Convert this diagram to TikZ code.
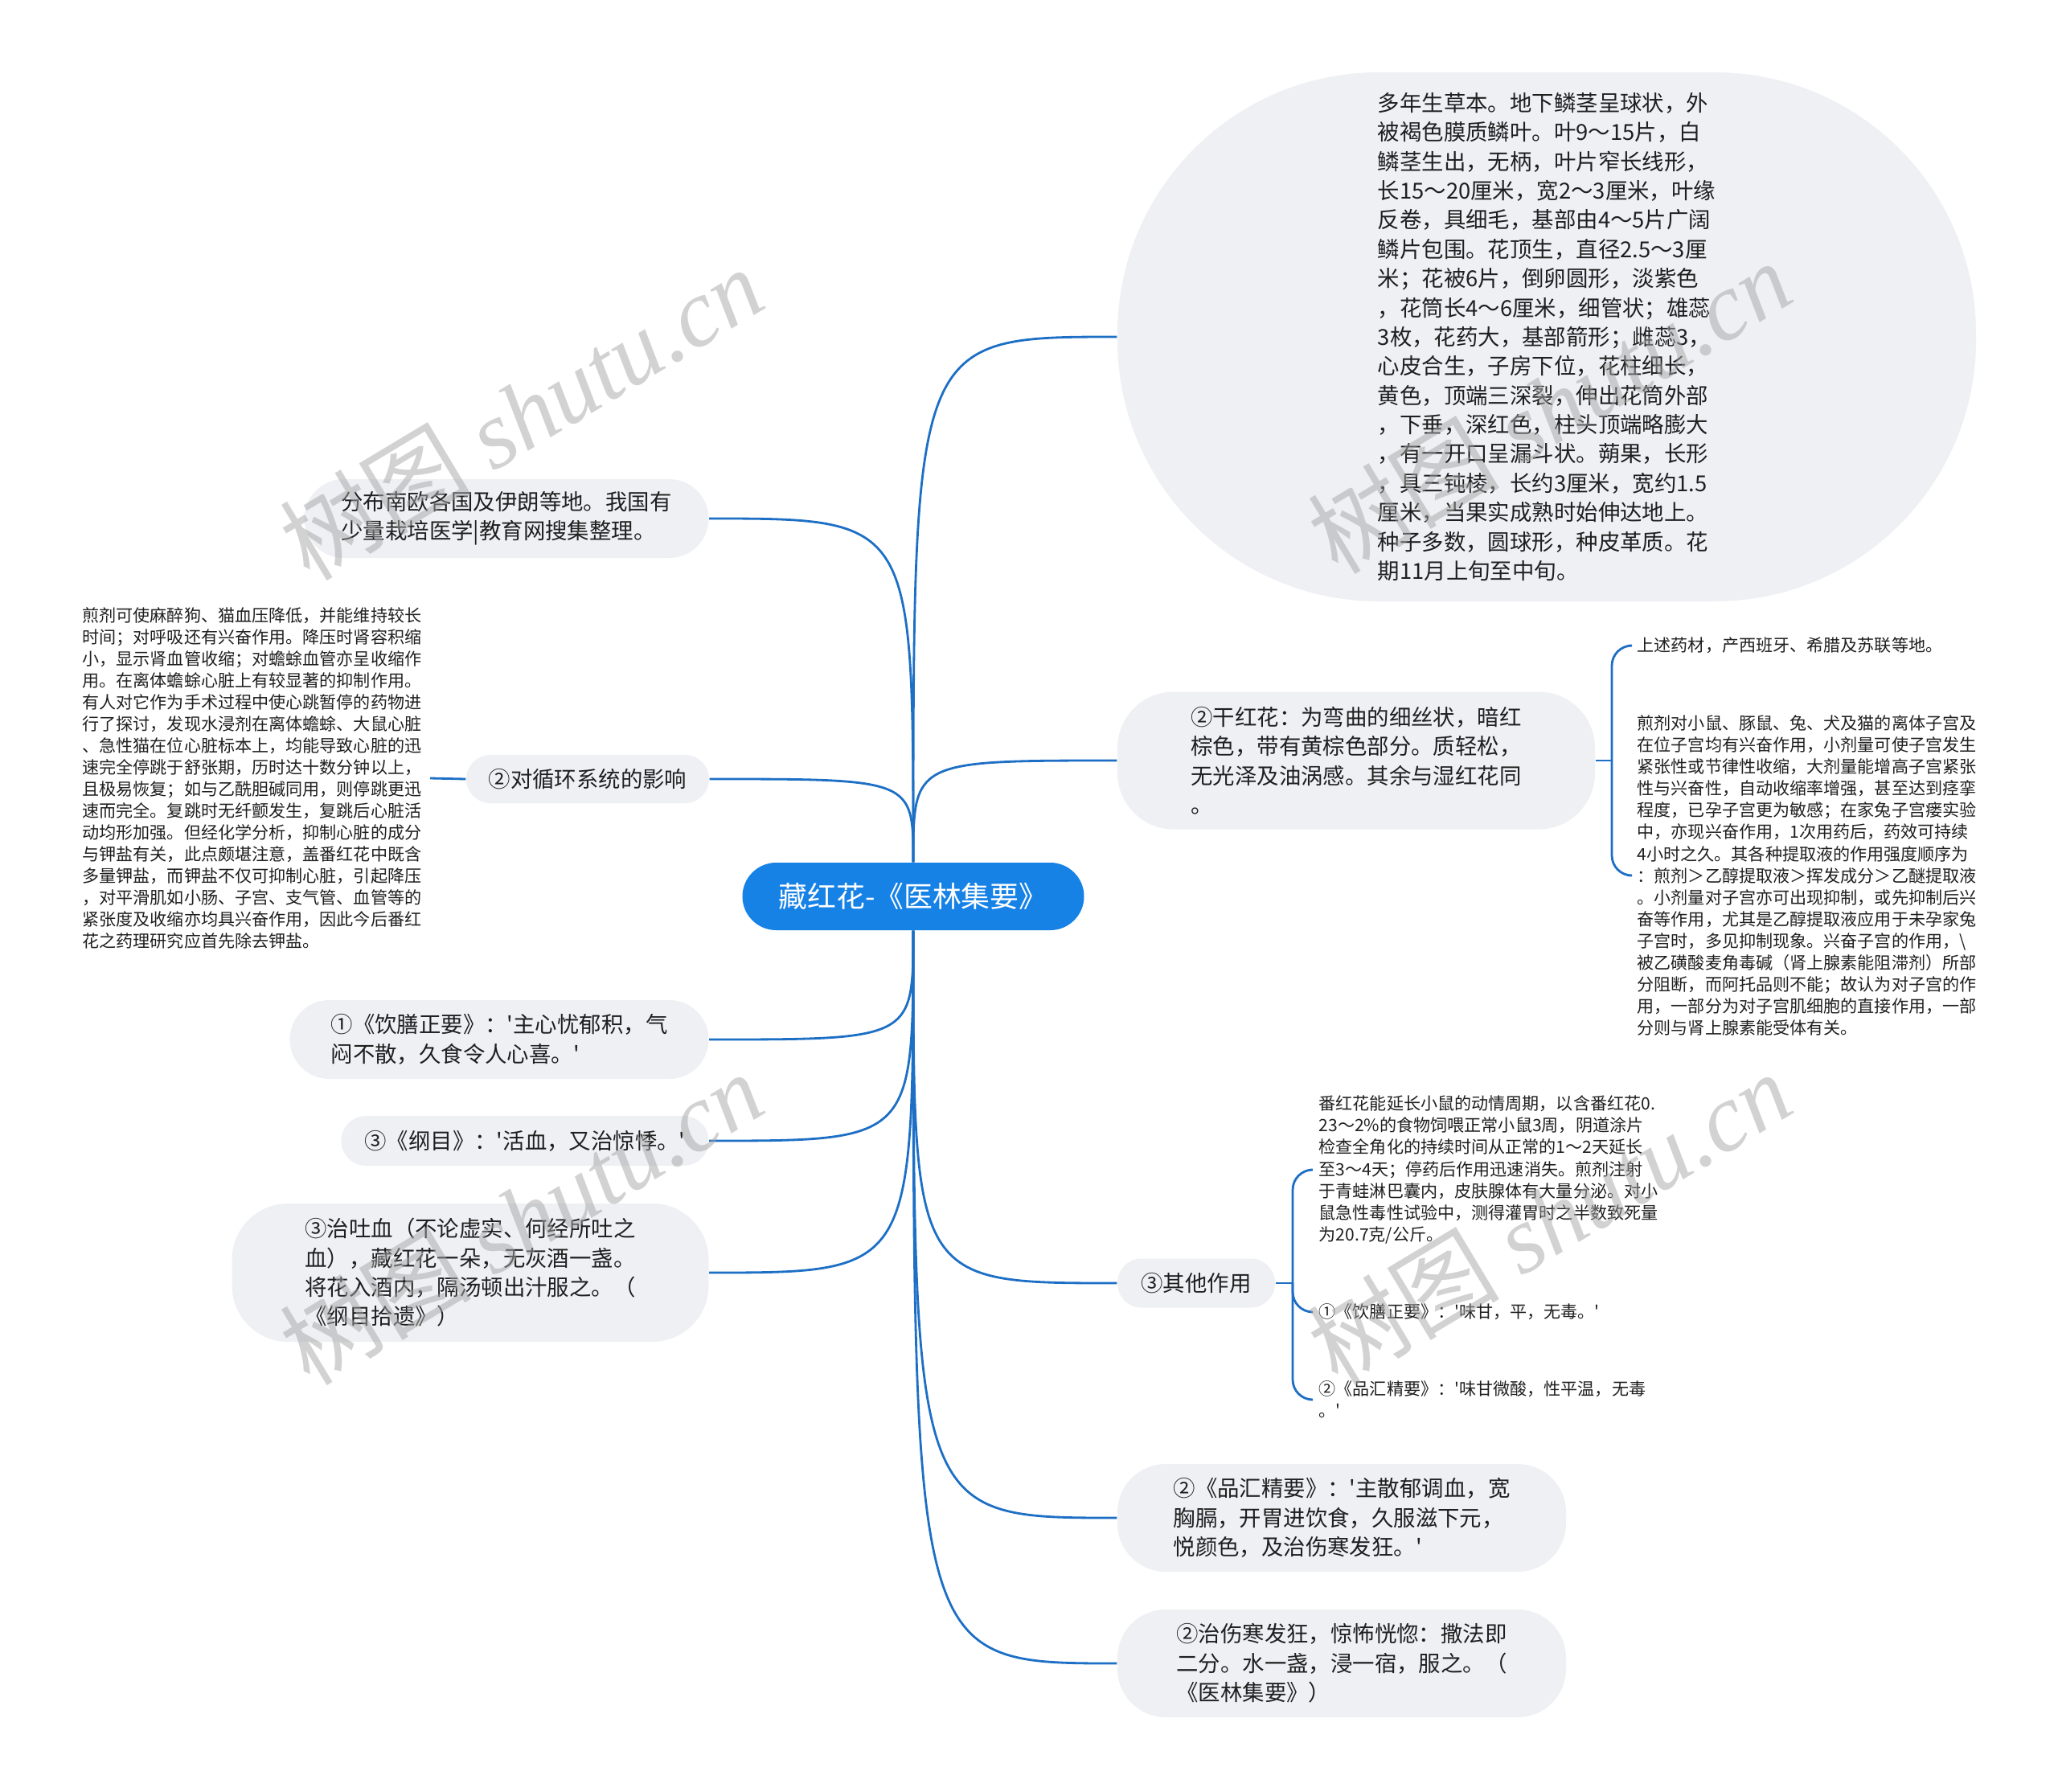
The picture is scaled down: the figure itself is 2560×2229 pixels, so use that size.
\documentclass[tikz,border=0pt]{standalone}
\usepackage{fontspec}
\setmainfont{Noto Sans CJK SC}
\newfontfamily\wmfont{Liberation Serif}
\usetikzlibrary{positioning}
\definecolor{rootblue}{HTML}{1682E6}
\definecolor{linkblue}{HTML}{1D6FC5}
\definecolor{boxgray}{HTML}{EEF0F4}
\newcommand{\qt}{\textquotesingle}

\begin{document}
\begin{tikzpicture}[x=0.1mm, y=-0.1mm,
  link/.style={linkblue, line width=0.8pt},
  root/.style={fill=rootblue, text=white, inner sep=0pt, rounded corners=4.2mm,
    minimum width=42.5mm, minimum height=8.4mm, font=\fontsize{10.2pt}{12pt}\selectfont},
  topic/.style={fill=boxgray, inner sep=0pt, align=left, text=black!88,
    font=\fontsize{7.8pt}{10.35pt}\selectfont},
  leaf/.style={inner xsep=1mm, inner ysep=0.5mm, align=left, text=black!88,
    font=\fontsize{6pt}{7.7pt}\selectfont},
  wm/.style={text=black!35, text opacity=0.5, font=\fontsize{34pt}{36pt}\selectfont}]
\fill[white] (0,0) rectangle (2560,2229);
\useasboundingbox (0,0) rectangle (2560,2229);

% centre
\node[root] (root) at (1136,1115) {藏红花-《医林集要》};

% right side, top
\node[topic, minimum width=106.8mm, minimum height=65.8mm, rounded corners=32.5mm] (desc) at (1924,419)
  {多年生草本。地下鳞茎呈球状，外\\被褐色膜质鳞叶。叶9～15片，白\\鳞茎生出，无柄，叶片窄长线形，\\长15～20厘米，宽2～3厘米，叶缘\\反卷，具细毛，基部由4～5片广阔\\鳞片包围。花顶生，直径2.5～3厘\\米；花被6片，倒卵圆形，淡紫色\\，花筒长4～6厘米，细管状；雄蕊\\3枚，花药大，基部箭形；雌蕊3，\\心皮合生，子房下位，花柱细长，\\黄色，顶端三深裂，伸出花筒外部\\，下垂，深红色，柱头顶端略膨大\\，有一开口呈漏斗状。蒴果，长形\\，具三钝棱，长约3厘米，宽约1.5\\厘米，当果实成熟时始伸达地上。\\种子多数，圆球形，种皮革质。花\\期11月上旬至中旬。};
\node[topic, minimum width=59.4mm, minimum height=17.1mm, rounded corners=7mm] (dry) at (1687,946)
  {②干红花：为弯曲的细丝状，暗红\\棕色，带有黄棕色部分。质轻松，\\无光泽及油涡感。其余与湿红花同\\。};
\node[leaf, anchor=west] (dry1) at (2026,803) {上述药材，产西班牙、希腊及苏联等地。};
\node[leaf, anchor=west] (dry2) at (2026,1089)
  {煎剂对小鼠、豚鼠、兔、犬及猫的离体子宫及\\在位子宫均有兴奋作用，小剂量可使子宫发生\\紧张性或节律性收缩，大剂量能增高子宫紧张\\性与兴奋性，自动收缩率增强，甚至达到痉挛\\程度，已孕子宫更为敏感；在家兔子宫瘘实验\\中，亦现兴奋作用，1次用药后，药效可持续\\4小时之久。其各种提取液的作用强度顺序为\\：煎剂＞乙醇提取液＞挥发成分＞乙醚提取液\\。小剂量对子宫亦可出现抑制，或先抑制后兴\\奋等作用，尤其是乙醇提取液应用于未孕家兔\\子宫时，多见抑制现象。兴奋子宫的作用，\textbackslash\\被乙磺酸麦角毒碱（肾上腺素能阻滞剂）所部\\分阻断，而阿托品则不能；故认为对子宫的作\\用，一部分为对子宫肌细胞的直接作用，一部\\分则与肾上腺素能受体有关。};

% left side, top
\node[topic, minimum width=50.3mm, minimum height=9.8mm, rounded corners=4.9mm] (dist) at (630,645)
  {分布南欧各国及伊朗等地。我国有\\少量栽培医学|教育网搜集整理。};
\node[topic, minimum width=30.2mm, minimum height=6mm, rounded corners=3mm] (circ) at (731,969)
  {②对循环系统的影响};
\node[leaf, anchor=east] (circ1) at (535,968)
  {煎剂可使麻醉狗、猫血压降低，并能维持较长\\时间；对呼吸还有兴奋作用。降压时肾容积缩\\小，显示肾血管收缩；对蟾蜍血管亦呈收缩作\\用。在离体蟾蜍心脏上有较显著的抑制作用。\\有人对它作为手术过程中使心跳暂停的药物进\\行了探讨，发现水浸剂在离体蟾蜍、大鼠心脏\\、急性猫在位心脏标本上，均能导致心脏的迅\\速完全停跳于舒张期，历时达十数分钟以上，\\且极易恢复；如与乙酰胆碱同用，则停跳更迅\\速而完全。复跳时无纤颤发生，复跳后心脏活\\动均形加强。但经化学分析，抑制心脏的成分\\与钾盐有关，此点颇堪注意，盖番红花中既含\\多量钾盐，而钾盐不仅可抑制心脏，引起降压\\，对平滑肌如小肠、子宫、支气管、血管等的\\紧张度及收缩亦均具兴奋作用，因此今后番红\\花之药理研究应首先除去钾盐。};

% left side, bottom
\node[topic, minimum width=52.1mm, minimum height=9.8mm, rounded corners=4.9mm] (ys) at (621,1293)
  {①《饮膳正要》：\qt{}主心忧郁积，气\\闷不散，久食令人心喜。\qt};
\node[topic, minimum width=45.7mm, minimum height=6.2mm, rounded corners=3.1mm] (gm) at (653,1419)
  {③《纲目》：\qt{}活血，又治惊悸。\qt};
\node[topic, minimum width=59.3mm, minimum height=17.2mm, rounded corners=7mm] (tx) at (585,1583)
  {③治吐血（不论虚实、何经所吐之\\血），藏红花一朵，无灰酒一盏。\\将花入酒内，隔汤顿出汁服之。（\\《纲目拾遗》）};

% right side, bottom
\node[topic, minimum width=19.6mm, minimum height=6.1mm, rounded corners=3mm] (other) at (1488,1596)
  {③其他作用};
\node[leaf, anchor=west] (oa) at (1630,1455)
  {番红花能延长小鼠的动情周期，以含番红花0.\\23～2\%的食物饲喂正常小鼠3周，阴道涂片\\检查全角化的持续时间从正常的1～2天延长\\至3～4天；停药后作用迅速消失。煎剂注射\\于青蛙淋巴囊内，皮肤腺体有大量分泌。对小\\鼠急性毒性试验中，测得灌胃时之半数致死量\\为20.7克/公斤。};
\node[leaf, anchor=west] (ob) at (1630,1632) {①《饮膳正要》：\qt{}味甘，平，无毒。\qt};
\node[leaf, anchor=west] (oc) at (1630,1741) {②《品汇精要》：\qt{}味甘微酸，性平温，无毒\\。\qt};
\node[topic, minimum width=55.8mm, minimum height=13.4mm, rounded corners=6mm] (ph) at (1669,1888)
  {②《品汇精要》：\qt{}主散郁调血，宽\\胸膈，开胃进饮食，久服滋下元，\\悦颜色，及治伤寒发狂。\qt};
\node[topic, minimum width=55.8mm, minimum height=13.4mm, rounded corners=6mm] (sh) at (1669,2069)
  {②治伤寒发狂，惊怖恍惚：撒法即\\二分。水一盏，浸一宿，服之。（\\《医林集要》）};

% branches
\draw[link] (root.north) .. controls (root.north |- desc.west) .. (desc.west);
\draw[link] (root.north) .. controls (root.north |- dry.west) .. (dry.west);
\draw[link] (root.north) .. controls (root.north |- dist.east) .. (dist.east);
\draw[link] (root.north) .. controls (root.north |- circ.east) .. (circ.east);
\draw[link] (root.south) .. controls (root.south |- ys.east) .. (ys.east);
\draw[link] (root.south) .. controls (root.south |- gm.east) .. (gm.east);
\draw[link] (root.south) .. controls (root.south |- tx.east) .. (tx.east);
\draw[link] (root.south) .. controls (root.south |- other.west) .. (other.west);
\draw[link] (root.south) .. controls (root.south |- ph.west) .. (ph.west);
\draw[link] (root.south) .. controls (root.south |- sh.west) .. (sh.west);
\draw[link] (circ.west) -- (circ1.east);

% brackets
\coordinate (dryj) at (2005,946);
\draw[link] (dry.east) -- (dryj);
\draw[link, rounded corners=2.5mm] (dryj) |- (dry1.west);
\draw[link, rounded corners=2.5mm] (dryj) |- (dry2.west);
\coordinate (otherj) at (1608,1596);
\draw[link] (other.east) -- (otherj);
\draw[link, rounded corners=2.5mm] (otherj) |- (oa.west);
\draw[link, rounded corners=2.5mm] (otherj) |- (ob.west);
\draw[link, rounded corners=2.5mm] (otherj) |- (oc.west);

% watermarks
\node[wm, rotate=31] (wm1) at (648,514) {树图 {\wmfont\itshape shutu.cn}};
\node[wm, rotate=31] (wm2) at (1927,506) {树图 {\wmfont\itshape shutu.cn}};
\node[wm, rotate=31] (wm3) at (648,1515) {树图 {\wmfont\itshape shutu.cn}};
\node[wm, rotate=31] (wm4) at (1927,1515) {树图 {\wmfont\itshape shutu.cn}};
\end{tikzpicture}
\end{document}
